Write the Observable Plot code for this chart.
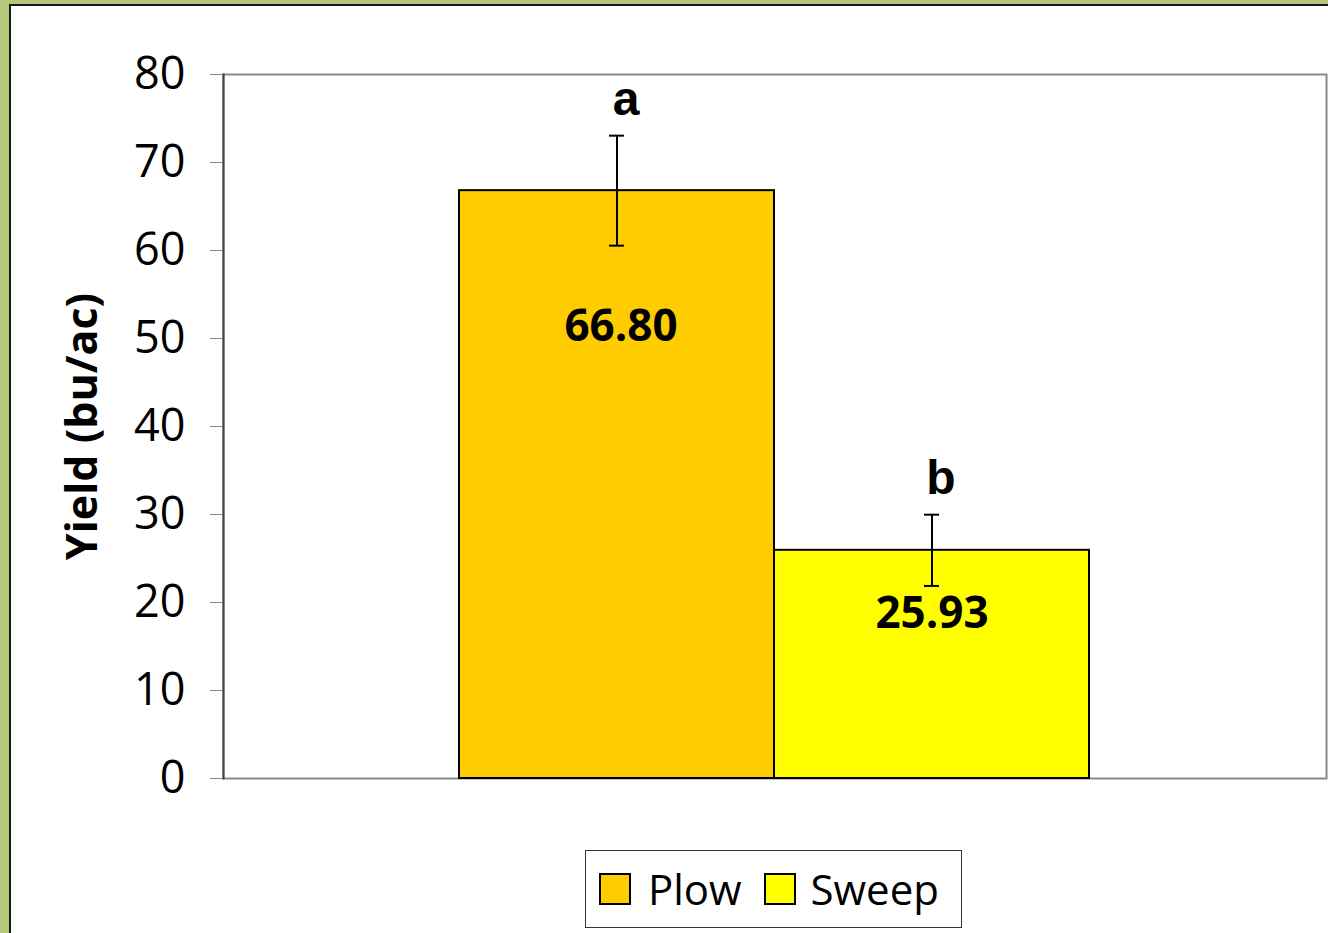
<!DOCTYPE html>
<html><head><meta charset="utf-8">
<script src="https://cdn.jsdelivr.net/npm/d3@7"></script>
<script src="https://cdn.jsdelivr.net/npm/@observablehq/plot@0.6"></script>
<style>
html,body{margin:0;padding:0;background:#fff;}
#page{position:relative;width:1328px;height:933px;background:#B4C77A;overflow:hidden;}
#card{position:absolute;left:9px;top:4px;width:1340px;height:950px;background:#fff;border-left:2px solid #1a1a1a;border-top:2px solid #1a1a1a;}
#chart{position:absolute;left:0;top:0;}
#legend{position:absolute;left:585px;top:850px;width:377px;height:78px;border:1px solid #333;box-sizing:border-box;background:#fff;font-family:"Open Sans";font-size:42px;display:flex;align-items:center;padding-left:13px;}
.sw{width:28px;height:28px;border:2px solid #000;}
.lab{line-height:1;margin-right:22px;}
</style>
</head><body>
<div id="page"><div id="card"></div><div id="chart"></div><div id="legend"></div></div>
<script>
const categories = ["Plow", "Sweep"];
const yields = [66.80, 25.93];
const errors = [6.25, 4.05];
const letters = ["a", "b"];
const colors = ["#FFCC00", "#FFFF00"];
const yTicks = [0, 10, 20, 30, 40, 50, 60, 70, 80];
const yLabel = "Yield (bu/ac)";

const data = categories.map((c, i) => ({cat: c, value: yields[i], err: errors[i], letter: letters[i], label: yields[i].toFixed(2)}));

const plot = Plot.plot({
  width: 1328,
  height: 830,
  marginTop: 74,
  marginBottom: 52,
  marginLeft: 223,
  marginRight: 2,
  style: {fontFamily: "Open Sans", fontSize: "45px", color: "#000", background: "transparent"},
  x: {domain: categories, range: [458, 1089], padding: 0, axis: null},
  y: {domain: [0, 80], axis: null},
  color: {domain: categories, range: colors},
  marks: [
    Plot.frame({stroke: "#888", strokeWidth: 2}),
    Plot.axisY({ticks: yTicks, tickSize: 13, tickPadding: 25, stroke: "#888", fill: "#000", fontSize: 45, label: null}),
    Plot.frame({anchor: "left", stroke: "#444", strokeWidth: 2}),
    Plot.barY(data, {x: "cat", y: "value", fill: "cat", stroke: "#000", strokeWidth: 2}),
    Plot.ruleX(data, {x: "cat", y1: d => d.value - d.err, y2: d => d.value + d.err, stroke: "#000", strokeWidth: 2}),
    Plot.tickY(data, {x: "cat", y: d => d.value + d.err, stroke: "#000", strokeWidth: 2, insetLeft: 150, insetRight: 150}),
    Plot.tickY(data, {x: "cat", y: d => d.value - d.err, stroke: "#000", strokeWidth: 2, insetLeft: 150, insetRight: 150}),
    Plot.text(data, {x: "cat", y: d => d.value + d.err, text: "letter", lineAnchor: "bottom", dy: -21, dx: 9, fontFamily: "Liberation Sans", fontWeight: "bold", fontSize: 48, fill: "#000"}),
    Plot.text(data.filter(d => d.cat === "Plow"), {x: "cat", y: "value", text: "label", dy: 136, dx: 4, fontWeight: "bold", fontSize: 44, fill: "#000"}),
    Plot.text(data.filter(d => d.cat === "Sweep"), {x: "cat", y: "value", text: "label", dy: 64, fontWeight: "bold", fontSize: 44, fill: "#000"}),
    Plot.text([yLabel], {frameAnchor: "left", textAnchor: "middle", dx: -140, rotate: -90, fontWeight: "bold", fontSize: 43, fill: "#000"})
  ]
});
document.getElementById("chart").appendChild(plot);

const legend = document.getElementById("legend");
categories.forEach((c, i) => {
  const sw = document.createElement("div");
  sw.className = "sw";
  sw.style.background = colors[i];
  sw.style.marginRight = i === 0 ? "17px" : "15px";
  legend.appendChild(sw);
  const t = document.createElement("span");
  t.className = "lab";
  t.textContent = c;
  legend.appendChild(t);
});
</script>
</body></html>
